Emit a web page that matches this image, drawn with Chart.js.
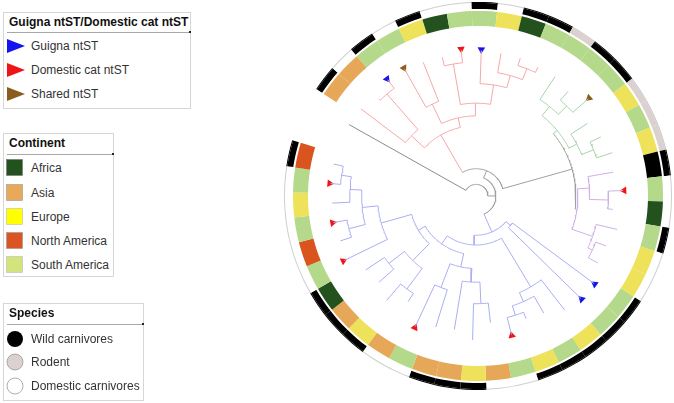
<!DOCTYPE html>
<html><head><meta charset="utf-8">
<script src="https://cdn.jsdelivr.net/npm/chart.js@4.4.1/dist/chart.umd.min.js"></script>
<style>
html,body{margin:0;padding:0;background:#fff;}
body{font-family:"Liberation Sans",Arial,sans-serif;}
#wrap{position:relative;width:674px;height:403px;overflow:hidden;}
#ringBox{position:absolute;left:284px;top:2px;width:388px;height:388px;}
#treeBox{position:absolute;left:0;top:0;width:674px;height:403px;}
.lg{position:absolute;border:1px solid #d6d6d6;background:#fff;box-sizing:border-box;}
.lg .t{position:absolute;left:5px;font-weight:bold;font-size:12px;color:#111;line-height:14px;white-space:nowrap;}
.lg .u{position:absolute;left:3px;height:1px;background:#a8a8a8;}
.lg .u:after{content:"";position:absolute;right:-1px;top:-1px;width:2px;height:2px;background:#222;}
.lg .it{position:absolute;left:27px;font-size:12px;color:#333;line-height:14px;white-space:nowrap;}
.lg svg{position:absolute;left:1px;}
</style></head>
<body>
<div id="wrap">
  <div id="ringBox"><canvas id="ring"></canvas></div>
  <div id="treeBox"><canvas id="tree"></canvas></div>

  <div class="lg" style="left:3px;top:12px;width:188px;height:97px;">
    <div class="t" style="top:2px;">Guigna ntST/Domestic cat ntST</div>
    <div class="u" style="top:19px;width:183px;"></div>
    <svg style="top:25px" width="22" height="16"><polygon points="2,1 20,8 2,15" fill="#1414f0"/></svg>
    <div class="it" style="top:26px;">Guigna ntST</div>
    <svg style="top:49px" width="22" height="16"><polygon points="2,1 20,8 2,15" fill="#f01414"/></svg>
    <div class="it" style="top:50px;">Domestic cat ntST</div>
    <svg style="top:73px" width="22" height="16"><polygon points="2,1 20,8 2,15" fill="#8a5d1f"/></svg>
    <div class="it" style="top:74px;">Shared ntST</div>
  </div>

  <div class="lg" style="left:3px;top:133px;width:111px;height:144px;">
    <div class="t" style="top:2px;">Continent</div>
    <div class="u" style="top:20px;width:106px;"></div>
    <svg style="top:24px" width="20" height="20"><rect x="1.5" y="1.5" width="16" height="16" fill="#24521f" stroke="#777" stroke-width="0.6"/></svg>
    <div class="it" style="top:27px;">Africa</div>
    <svg style="top:49px" width="20" height="20"><rect x="1.5" y="1.5" width="16" height="16" fill="#e8a95a" stroke="#999" stroke-width="0.6"/></svg>
    <div class="it" style="top:52px;">Asia</div>
    <svg style="top:73px" width="20" height="20"><rect x="1.5" y="1.5" width="16" height="16" fill="#ffff00" stroke="#bbb" stroke-width="0.6"/></svg>
    <div class="it" style="top:76px;">Europe</div>
    <svg style="top:97px" width="20" height="20"><rect x="1.5" y="1.5" width="16" height="16" fill="#db5523" stroke="#999" stroke-width="0.6"/></svg>
    <div class="it" style="top:100px;">North America</div>
    <svg style="top:121px" width="20" height="20"><rect x="1.5" y="1.5" width="16" height="16" fill="#d3e47c" stroke="#bbb" stroke-width="0.6"/></svg>
    <div class="it" style="top:124px;">South America</div>
  </div>

  <div class="lg" style="left:3px;top:303px;width:141px;height:98px;">
    <div class="t" style="top:2px;">Species</div>
    <div class="u" style="top:20px;width:136px;"></div>
    <svg style="top:25px" width="22" height="20"><circle cx="10" cy="10" r="8" fill="#000"/></svg>
    <div class="it" style="top:28px;">Wild carnivores</div>
    <svg style="top:48px" width="22" height="20"><circle cx="10" cy="10" r="8" fill="#dcd1d1" stroke="#999" stroke-width="0.8"/></svg>
    <div class="it" style="top:51px;">Rodent</div>
    <svg style="top:72px" width="22" height="20"><circle cx="10" cy="10" r="8" fill="#fff" stroke="#999" stroke-width="0.8"/></svg>
    <div class="it" style="top:75px;">Domestic carnivores</div>
  </div>
</div>
<script>
// ---------- DATA ----------
// ring cells, in order counter-clockwise (screen) from the left end of the ring
const cellContinent = ['North America','South America','Europe','South America','North America','South America','Africa','Asia','Europe','Asia',
  'South America','Asia','Asia','Europe','Asia','South America','Europe','South America','Europe','South America',
  'South America','Europe','Europe','South America','Africa','South America','Unknown','Europe','South America','Europe',
  'South America','South America','South America','South America','Africa','Europe','South America','South America','Africa','Europe',
  'South America','South America','Asia','Asia'];
const cellSpecies = ['Wild','Domestic','Domestic','Domestic','Domestic','Domestic','Wild','Wild','Wild','Domestic',
  'Domestic','Wild','Wild','Wild','Domestic','Domestic','Wild','Wild','Wild','Wild',
  'Wild','Domestic','Domestic','Wild','Domestic','Domestic','Wild','Rodent','Rodent','Rodent',
  'Wild','Wild','Rodent','Wild','Wild','Domestic','Wild','Domestic','Domestic','Wild',
  'Domestic','Wild','Domestic','Wild'];
// clade of every leaf (leaf 45 = outgroup in the ring gap)
const leafClade = [].concat(Array(21).fill('blue'), Array(6).fill('purple'), Array(6).fill('green'), Array(11).fill('red'), ['grey']);
// sub-trees: "leaf:depth", "(children):depth" (depth = distance from root)
const treeBlue = "((((((((1:148,2:148):138,3:146):128,(4:147,5:145):133):116,6:149):100,((7:135,8:132):112,(9:140,10:128):118):92):68,((11:147,12:140):100,(13:138,(14:147,15:130):110):88):74):60,(((16:146,17:135):128,18:138):118,19:147):108):50,(20:149,21:149):46):40";
const treePurple = "((27:141,(26:149,25:139):134):115,(24:147,(23:141,22:141):130):125):103";
const treeGreen = "((33:146,(32:142,31:151):130):118,(30:135,(29:140,28:145):128):115):106";
const treeRed = "((44:147,(43:140,42:149):138):90,((41:149,40:147):104,((39:146,38:150):137,(37:149,(36:148,(35:148,34:146):140):128):115):95):82):72";
const backboneDepths = {greenPurple:101, upper:28, ingroup:20, root:12, outgroup:148};
// ntST markers at leaf tips
const markerLeaf = [2,4,6,11,16,20,21,26,31,37,38,41,42];
const markerType = ['Domestic cat ntST','Domestic cat ntST','Domestic cat ntST','Domestic cat ntST','Domestic cat ntST','Guigna ntST','Guigna ntST',
  'Domestic cat ntST','Shared ntST','Guigna ntST','Domestic cat ntST','Shared ntST','Guigna ntST'];

// ---------- STYLES ----------
const continentColor = {'Africa':'#24521f','Asia':'#e6a858','Europe':'#eee25a','North America':'#d9541f','South America':'#b5d98a','Unknown':'#000000'};
const speciesFill = {'Wild':'#000000','Rodent':'#dbd1d1','Domestic':'#ffffff'};
const speciesEdge = {'Wild':'#000000','Rodent':'#cfc5c5','Domestic':'#cfcfcf'};
const cladeColor = {blue:'#a9aef2',purple:'#cfb1e6',green:'#a9d3aa',red:'#f6a7a7',grey:'#a0a0a0'};
const markerColor = {'Guigna ntST':'#1414f0','Domestic cat ntST':'#f01414','Shared ntST':'#8a5d1f'};

const CX = 478, CY = 196;           // centre in page pixels
const ringStart = 196.7, slot = 7.8; // degrees (screen, clockwise from east)
const nCells = cellContinent.length;

// ---------- RING (doughnut) ----------
const rev = a => a.slice().reverse();
const ones = Array(nCells).fill(1);
const ringDs = (weight, colors) => ({data:ones, weight, backgroundColor:colors, borderWidth:0, hoverBorderWidth:0, hoverOffset:0, offset:0});
new Chart(document.getElementById('ring'), {
  type:'doughnut',
  data:{
    labels: rev(cellContinent.map((c,i)=>'cell '+(i+1))),
    datasets:[
      ringDs(1, rev(cellSpecies.map(s=>speciesEdge[s]))),
      ringDs(6, rev(cellSpecies.map(s=>speciesFill[s]))),
      ringDs(2, 'rgba(0,0,0,0)'),
      ringDs(15, rev(cellContinent.map(c=>continentColor[c])))
    ]
  },
  options:{
    responsive:true, maintainAspectRatio:false, animation:false, events:[],
    cutout:170,
    rotation: ringStart - slot*nCells + 90,
    circumference: slot*nCells,
    layout:{padding:0},
    elements:{arc:{borderWidth:0, hoverOffset:0, hoverBorderWidth:0}},
    plugins:{legend:{display:false},tooltip:{enabled:false}}
  }
});

// ---------- TREE ----------
function parseTree(s){
  let i=0;
  function node(){
    const n={children:[]};
    if(s[i]==='('){
      i++; n.children.push(node());
      while(s[i]===','){i++; n.children.push(node());}
      i++;
    } else {
      let m=''; while(/[0-9]/.test(s[i])) m+=s[i++];
      n.leaf=+m;
    }
    if(s[i]===':'){i++; let d=''; while(i<s.length && /[0-9.]/.test(s[i])) d+=s[i++]; n.depth=+d;}
    return n;
  }
  return node();
}
const blue=parseTree(treeBlue), purple=parseTree(treePurple), green=parseTree(treeGreen), red=parseTree(treeRed);
const gp = {children:[purple,green], depth:backboneDepths.greenPurple};
const upper = {children:[gp,red], depth:backboneDepths.upper};
const ingroup = {children:[blue,upper], depth:backboneDepths.ingroup};
const root = {children:[ingroup,{children:[],leaf:45,depth:backboneDepths.outgroup}], depth:backboneDepths.root};

const leafAngle = k => ringStart - (k-0.5)*slot;
function layout(n){
  if(n.leaf){ n.angle=leafAngle(n.leaf); n.clades=new Set([leafClade[n.leaf-1]]); return; }
  n.children.forEach(layout);
  const as=n.children.map(c=>c.angle);
  n.a0=Math.min(...as); n.a1=Math.max(...as);
  n.angle=(n.a0+n.a1)/2;
  n.clades=new Set(); n.children.forEach(c=>c.clades.forEach(x=>n.clades.add(x)));
}
layout(root);
const colorOf = n => n.clades.size===1 ? cladeColor[[...n.clades][0]] : cladeColor.grey;
const pt = (r,a) => ({x: r*Math.cos(a*Math.PI/180), y: r*Math.sin(a*Math.PI/180)});

const datasets=[];
function lineDs(points,color){
  datasets.push({data:points, showLine:true, borderColor:color, borderWidth:1, pointRadius:0, fill:false, tension:0});
}
function draw(n){
  if(n.leaf) return;
  const arc=[];
  for(let a=n.a0;a<n.a1;a+=1) arc.push(pt(n.depth,a));
  arc.push(pt(n.depth,n.a1));
  lineDs(arc,colorOf(n));
  n.children.forEach(c=>{
    lineDs([pt(n.depth,c.angle),pt(c.depth,c.angle)], c.leaf===45?'#8c8c8c':colorOf(c));
    draw(c);
  });
}
draw(root);

// leaf tip depths for markers
const tipDepth={};
(function collect(n){ if(n.leaf) tipDepth[n.leaf]=n.depth; else n.children.forEach(collect); })(root);
datasets.push({
  data: markerLeaf.map(k=>pt(tipDepth[k]+1,leafAngle(k))),
  showLine:false, pointStyle:'triangle', pointRadius:4.4, pointBorderWidth:0,
  pointBackgroundColor: markerType.map(t=>markerColor[t]),
  pointBorderColor: markerType.map(t=>markerColor[t]),
  pointRotation: markerLeaf.map(k=>leafAngle(k)+270)
});

new Chart(document.getElementById('tree'), {
  type:'scatter',
  data:{datasets},
  options:{
    responsive:true, maintainAspectRatio:false, animation:false, events:[],
    layout:{padding:0},
    plugins:{legend:{display:false},tooltip:{enabled:false}},
    scales:{
      x:{type:'linear', min:-CX, max:674-CX, display:false},
      y:{type:'linear', min:-CY, max:403-CY, reverse:true, display:false}
    }
  }
});
</script>
</body></html>
